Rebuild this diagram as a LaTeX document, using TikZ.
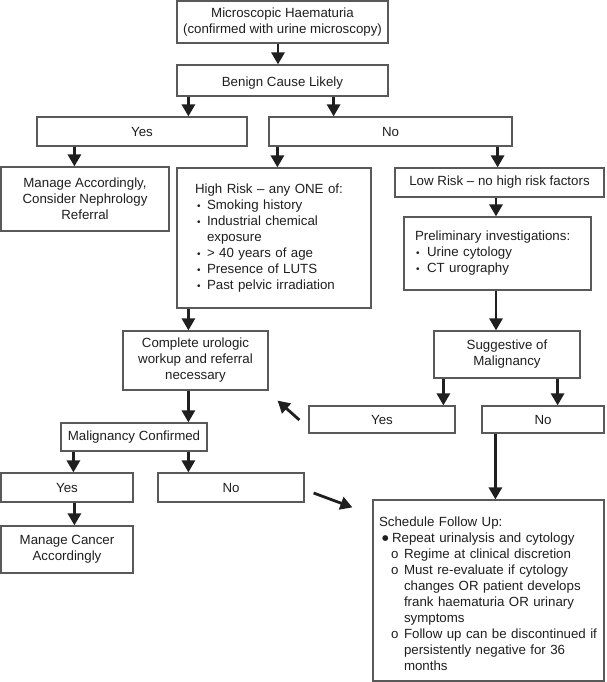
\documentclass[tikz,border=0pt]{standalone}
\usepackage{fontspec}
\setmainfont{Liberation Sans}
\newfontfamily\djfont{DejaVu Sans}
\usetikzlibrary{arrows.meta,calc}
\newcommand\hrbul{\makebox[12pt][l]{\hspace{2pt}{\fontsize{10}{10}\selectfont •}}}
\newcommand\pibul{\makebox[12pt][l]{\hspace{1pt}{\fontsize{10}{10}\selectfont •}}}
\newcommand\fubul{\makebox[10pt][l]{\raisebox{1.5pt}{\djfont\fontsize{7.5}{7.5}\selectfont ●}}}
\newcommand\fuo{\makebox[13pt][l]{o}}
\begin{document}
\begin{tikzpicture}[x=1pt,y=-1pt,
  box/.style={draw=black!65, line width=1.2pt, fill=white, text=black!88,
    font=\fontsize{13.3}{16}\selectfont, inner sep=0pt, align=center},
  arr/.style={-{Triangle[width=13pt,length=12pt]}, line width=2.8pt, draw=black!88}]
\useasboundingbox (0,0) rectangle (606,682);
% boxes
\node[box, minimum width=211pt, minimum height=42pt] (mh) at (282.5,22) {Microscopic Haematuria\\(confirmed with urine microscopy)};
\node[box, minimum width=211pt, minimum height=31pt] (bc) at (282.5,80.5) {\rule{0pt}{14pt}Benign Cause Likely};
\node[box, minimum width=210pt, minimum height=29pt] (yes1) at (142,131.5) {Yes};
\node[box, minimum width=243pt, minimum height=29pt] (no1) at (390.5,131.5) {No};
\node[box, minimum width=168pt, minimum height=64pt] (mac) at (85,199) {Manage Accordingly,\\Consider Nephrology\\Referral};
\node[box, minimum width=194pt, minimum height=140pt, text width=158pt, inner xsep=18pt, align=left] (hr) at (274,238)
 {High Risk -- any ONE of:\\
  \hrbul Smoking history\\
  \hrbul Industrial chemical\\
  \hspace*{12pt}exposure\\
  \hrbul > 40 years of age\\
  \hrbul Presence of LUTS\\
  \hrbul Past pelvic irradiation};
\node[box, minimum width=209pt, minimum height=29pt] (lr) at (499.5,182.5) {Low Risk -- no high risk factors};
\node[box, minimum width=187pt, minimum height=73pt, text width=165pt, inner xsep=11pt, align=left] (pi) at (497.5,253.5)
 {Preliminary investigations:\\
  \pibul Urine cytology\\
  \pibul CT urography};
\node[box, minimum width=145pt, minimum height=59pt] (cu) at (195.5,360.5) {Complete urologic\\workup and referral\\necessary};
\node[box, minimum width=146pt, minimum height=47pt] (sm) at (507,354.5) {Suggestive of\\Malignancy};
\node[box, minimum width=146pt, minimum height=27pt] (yes2) at (382,419.5) {Yes};
\node[box, minimum width=122pt, minimum height=27pt] (no2) at (543,419.5) {No};
\node[box, minimum width=146pt, minimum height=28pt] (mc) at (134,437) {Malignancy Confirmed};
\node[box, minimum width=132pt, minimum height=29pt] (yes3) at (67,487.5) {Yes};
\node[box, minimum width=146pt, minimum height=29pt] (no3) at (231,487.5) {No};
\node[box, minimum width=132pt, minimum height=47pt] (mca) at (67,549.5) {Manage Cancer\\Accordingly};
\node[box, minimum width=231pt, minimum height=181pt, text width=219pt, inner xsep=6pt, align=left] (fu) at (488.5,590.5)
 {\rule{0pt}{16pt}Schedule Follow Up:\\
  \hspace*{3pt}\fubul Repeat urinalysis and cytology\\
  \hspace*{12pt}\fuo Regime at clinical discretion\\
  \hspace*{12pt}\fuo Must re-evaluate if cytology\\
  \hspace*{25pt}changes OR patient develops\\
  \hspace*{25pt}frank haematuria OR urinary\\
  \hspace*{25pt}symptoms\\
  \hspace*{12pt}\fuo Follow up can be discontinued if\\
  \hspace*{25pt}persistently negative for 36\\
  \hspace*{25pt}months};
% arrow start points
\coordinate (s1) at ([xshift=-4.5pt]mh.south);
\coordinate (s2) at ([xshift=12pt]bc.south west);
\coordinate (s3) at ([xshift=-55pt]bc.south east);
\coordinate (s4) at ([xshift=38pt]yes1.south west);
\coordinate (s5) at ([xshift=9pt]no1.south west);
\coordinate (s6) at ([xshift=-15pt]no1.south east);
\coordinate (s7) at ([xshift=-3.5pt]lr.south);
\coordinate (s8) at ([xshift=12pt]hr.south west);
\coordinate (s9) at ([xshift=-1.5pt]pi.south);
\coordinate (s10) at ([xshift=66pt]cu.south west);
\coordinate (s11) at ([xshift=10pt]sm.south west);
\coordinate (s12) at ([xshift=-23pt]sm.south east);
\coordinate (s13) at ([xshift=13pt]mc.south west);
\coordinate (s14) at ([xshift=128pt]mc.south west);
\coordinate (s15) at ([xshift=74pt]yes3.south west);
\coordinate (s16) at ([xshift=14pt]no2.south west);
\draw[arr] (s1) -- (s1 |- bc.north);
\draw[arr] (s2) -- (s2 |- yes1.north);
\draw[arr] (s3) -- (s3 |- no1.north);
\draw[arr] (s4) -- (s4 |- mac.north);
\draw[arr] (s5) -- (s5 |- hr.north);
\draw[arr] (s6) -- (s6 |- lr.north);
\draw[arr] (s7) -- (s7 |- pi.north);
\draw[arr] (s8) -- (s8 |- cu.north);
\draw[arr] (s9) -- (s9 |- sm.north);
\draw[arr] (s10) -- (s10 |- mc.north);
\draw[arr] (s11) -- (s11 |- yes2.north);
\draw[arr] (s12) -- (s12 |- no2.north);
\draw[arr] (s13) -- (s13 |- yes3.north);
\draw[arr] (s14) -- (s14 |- no3.north);
\draw[arr] (s15) -- (s15 |- mca.north);
\draw[arr] (s16) -- (s16 |- fu.north);
% diagonal arrows
\coordinate (d1a) at ($(yes2.west)+(-9,0.5)$);
\coordinate (d1b) at ($(cu.south east)+(9,10)$);
\coordinate (d2a) at ($(no3.east)+(9,5.5)$);
\coordinate (d2b) at ($(fu.north west)+(-20,8)$);
\draw[arr] (d1a) -- (d1b);
\draw[arr] (d2a) -- (d2b);
\end{tikzpicture}
\end{document}
